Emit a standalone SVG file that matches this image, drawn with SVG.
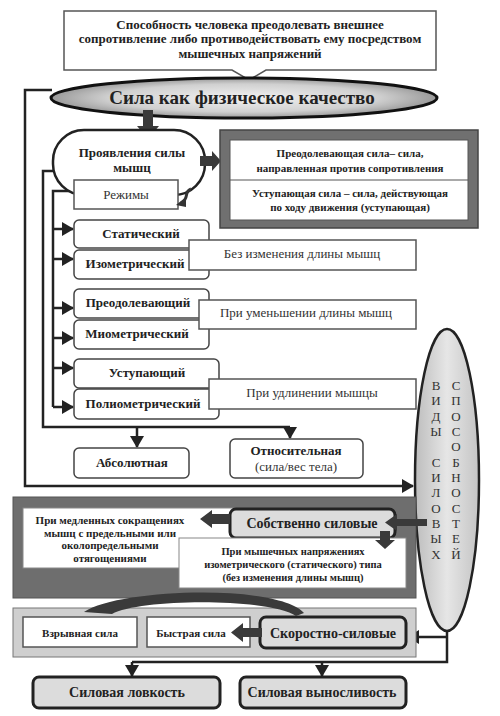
<svg xmlns="http://www.w3.org/2000/svg" width="500" height="716" viewBox="0 0 500 716">
<style>
text{font-family:'Liberation Serif','Times New Roman','DejaVu Serif',serif}
.t{fill:#222;text-anchor:middle}
.b{font-weight:bold}
.n{font-weight:normal;fill:#333}
.box{fill:#fff;stroke:#555;stroke-width:1.5}
.rb{fill:#fff;stroke:#444;stroke-width:1.5}
.gb{fill:#dcdcdc;stroke:#222;stroke-width:3}
.ln{fill:none;stroke:#222;stroke-width:2.5}
.thick{fill:#3a3a3a;stroke:none}
</style>
<defs>
<marker id="ah" markerUnits="userSpaceOnUse" markerWidth="12" markerHeight="14" refX="11" refY="7" orient="auto">
<path d="M0,0 L12,7 L0,14 z" fill="#222"/>
</marker>
<radialGradient id="eg" cx="0.5" cy="0.5" r="0.5">
<stop offset="0" stop-color="#f2f2f2"/>
<stop offset="0.7" stop-color="#d0d0d0"/>
<stop offset="1" stop-color="#9a9a9a"/>
</radialGradient>
<linearGradient id="vg" x1="0" y1="0" x2="1" y2="0">
<stop offset="0" stop-color="#bdbdbd"/>
<stop offset="0.5" stop-color="#e6e6e6"/>
<stop offset="1" stop-color="#c4c4c4"/>
</linearGradient>
</defs>

<g id="connectors">
<path class="ln" d="M52,90 H25 V486 H413" marker-end="url(#ah)"/>
<path class="ln" d="M56,171 H43 V427 H290"/>
<path class="ln" d="M137,427 V447" marker-end="url(#ah)"/>
<path class="ln" d="M290,427 V438" marker-end="url(#ah)"/>
<path class="ln" d="M74,191 H53 V407"/>
<path class="ln" d="M53,229 H73" marker-end="url(#ah)"/>
<path class="ln" d="M53,259 H73" marker-end="url(#ah)"/>
<path class="ln" d="M53,308 H73" marker-end="url(#ah)"/>
<path class="ln" d="M53,338 H73" marker-end="url(#ah)"/>
<path class="ln" d="M53,368 H73" marker-end="url(#ah)"/>
<path class="ln" d="M53,407 H73" marker-end="url(#ah)"/>
<path class="ln" d="M447,630 V662 H132"/>
<path class="ln" d="M447,637 H408" marker-end="url(#ah)"/>
<path class="ln" d="M132,662 V676" marker-end="url(#ah)"/>
<path class="ln" d="M322,662 V676" marker-end="url(#ah)"/>
</g>

<g id="definition">
<path d="M64,11 H436 V70 H266 L249,80 L232,70 H64 Z" fill="#fff" stroke="#555" stroke-width="1.5"/>
<text class="t b" x="250" y="29" font-size="13">Способность человека преодолевать внешнее</text>
<text class="t b" x="250" y="43" font-size="13">сопротивление либо противодействовать ему посредством</text>
<text class="t b" x="250" y="58" font-size="13">мышечных напряжений</text>
</g>

<g id="title">
<ellipse cx="244" cy="98" rx="193" ry="20" fill="url(#eg)" stroke="#111" stroke-width="3"/>
<text class="t b" x="242" y="104" font-size="19">Сила как физическое качество</text>
</g>

<g id="arrow-down-1">
<path class="thick" d="M143,110 H153 V126 H159 L148,139 L137,126 H143 Z"/>
</g>

<g id="manifest">
<rect x="53" y="130" width="152" height="65" rx="31" fill="#fff" stroke="#222" stroke-width="2.5"/>
<text class="t b" x="132" y="157" font-size="13">Проявления силы</text>
<text class="t b" x="132" y="172" font-size="13">мышц</text>
<path class="thick" d="M200,156 H212 V151 L221,161 L212,171 V166 H200 Z"/>
</g>

<g id="modes">
<rect class="box" x="74" y="180" width="104" height="29"/>
<text class="t n" x="126" y="199" font-size="13">Режимы</text>
<path d="M191,189 C183,192 190,199 181,203" fill="none" stroke="#333" stroke-width="3"/>
<path d="M186,197 L176,205 L186,207 Z" fill="#333"/>
</g>

<g id="force-types">
<rect x="220" y="130" width="258" height="98" fill="#707070" stroke="#444" stroke-width="1.5"/>
<rect x="230" y="140" width="238" height="80" fill="#fff" stroke="#555" stroke-width="1"/>
<line x1="230" y1="180" x2="468" y2="180" stroke="#555" stroke-width="1"/>
<text class="t b" x="350" y="157" font-size="11">Преодолевающая сила–  сила,</text>
<text class="t b" x="350" y="172" font-size="11">направленная против сопротивления</text>
<text class="t b" x="350" y="197" font-size="11">Уступающая сила – сила, действующая</text>
<text class="t b" x="350" y="211" font-size="11">по ходу движения (уступающая)</text>
</g>

<g id="static">
<rect class="rb" x="74" y="220" width="135" height="28" rx="5"/>
<text class="t b" x="141" y="238" font-size="13">Статический</text>
</g>
<g id="isometric">
<rect class="rb" x="74" y="250" width="135" height="29" rx="5"/>
<text class="t b" x="135" y="268" font-size="13">Изометрический</text>
</g>
<g id="no-change">
<rect class="box" x="189" y="240" width="227" height="30"/>
<text class="t n" x="302" y="258" font-size="13">Без изменения длины мышц</text>
</g>

<g id="overcoming">
<rect class="rb" x="74" y="289" width="135" height="29" rx="5"/>
<text class="t b" x="138" y="307" font-size="13">Преодолевающий</text>
</g>
<g id="miometric">
<rect class="rb" x="74" y="320" width="135" height="29" rx="5"/>
<text class="t b" x="137" y="338" font-size="13">Миометрический</text>
</g>
<g id="shorten">
<rect class="box" x="199" y="300" width="217" height="29"/>
<text class="t n" x="306" y="317" font-size="13">При уменьшении длины мышц</text>
</g>

<g id="yielding">
<rect class="rb" x="74" y="359" width="145" height="29" rx="5"/>
<text class="t b" x="147" y="377" font-size="13">Уступающий</text>
</g>
<g id="poliometric">
<rect class="rb" x="74" y="389" width="145" height="30" rx="5"/>
<text class="t b" x="143" y="408" font-size="13">Полиометрический</text>
</g>
<g id="lengthen">
<rect class="box" x="209" y="379" width="207" height="30"/>
<text class="t n" x="312" y="397" font-size="13">При удлинении мышцы</text>
</g>

<g id="absolute">
<rect class="rb" x="74" y="448" width="115" height="30" rx="5"/>
<text class="t b" x="132" y="467" font-size="13">Абсолютная</text>
</g>
<g id="relative">
<rect class="rb" x="230" y="439" width="133" height="39" rx="5"/>
<text class="t b" x="296" y="455" font-size="13">Относительная</text>
<text class="t n" x="296" y="471" font-size="13">(сила/вес тела)</text>
</g>

<g id="types-ellipse">
<ellipse cx="447" cy="480" rx="32" ry="151" fill="url(#vg)" stroke="#222" stroke-width="2.5"/>
<g class="t n" font-size="13">
<text x="436" y="390">В</text><text x="436" y="405">И</text><text x="436" y="421">Д</text><text x="436" y="436">Ы</text>
<text x="436" y="467">С</text><text x="436" y="482">И</text><text x="436" y="497">Л</text><text x="436" y="513">О</text><text x="436" y="528">В</text><text x="436" y="543">Ы</text><text x="436" y="559">Х</text>
<text x="456" y="390">С</text><text x="456" y="405">П</text><text x="456" y="421">О</text><text x="456" y="436">С</text><text x="456" y="451">О</text><text x="456" y="467">Б</text><text x="456" y="482">Н</text><text x="456" y="497">О</text><text x="456" y="513">С</text><text x="456" y="528">Т</text><text x="456" y="543">Е</text><text x="456" y="559">Й</text>
</g>
</g>

<g id="strength-band">
<rect x="13" y="497" width="403" height="101" fill="#6e6e6e" stroke="#555" stroke-width="1"/>
<rect x="23" y="508" width="210" height="60" fill="#fff" stroke="#888" stroke-width="1"/>
<text class="t b" x="110" y="524" font-size="11">При медленных сокращениях</text>
<text class="t b" x="110" y="537" font-size="11">мышц с предельными или</text>
<text class="t b" x="110" y="549" font-size="11">околопредельными</text>
<text class="t b" x="110" y="562" font-size="11">отягощениями</text>
</g>

<g id="own-strength">
<rect class="gb" x="230" y="509" width="165" height="29" rx="6"/>
<text class="t b" x="312" y="528" font-size="14">Собственно силовые</text>
<path class="thick" d="M230,514 H212 V510 L200,519 L212,528 V524 H230 Z"/>
<path class="thick" d="M427,519 H397 V514 L385,522.5 L397,531 V526 H427 Z"/>
</g>

<g id="isometric-tension">
<rect x="179" y="538" width="227" height="50" fill="#fff" stroke="#888" stroke-width="1"/>
<text class="t b" x="293" y="555" font-size="10.5">При мышечных напряжениях</text>
<text class="t b" x="293" y="568" font-size="10.5">изометрического (статического) типа</text>
<text class="t b" x="293" y="581" font-size="10.5">(без изменения длины мышц)</text>
<path class="thick" d="M380,531 H390 V540 H395 L385,549 L375,540 H380 Z"/>
</g>

<g id="speed-band">
<rect x="13" y="608" width="403" height="49" fill="#cfcfcf" stroke="#777" stroke-width="1"/>
</g>
<g id="explosive">
<rect class="box" x="23" y="617" width="114" height="30"/>
<text class="t b" x="80" y="637" font-size="11">Взрывная сила</text>
</g>
<g id="fast">
<rect class="box" x="147" y="617" width="103" height="30"/>
<text class="t b" x="191" y="637" font-size="11">Быстрая сила</text>
</g>
<g id="speed-strength">
<rect class="gb" x="260" y="617" width="146" height="31" rx="6"/>
<text class="t b" x="333" y="638" font-size="14">Скоростно-силовые</text>
<path class="thick" d="M262,628 H243 V623 L231,632.5 L243,642 V637 H262 Z"/>
<path class="thick" d="M84,612 C120,588 280,584 304,613 L296,616 C272,598 140,598 112,614 Z"/>
</g>

<g id="agility">
<rect class="gb" x="33" y="677" width="187" height="31" rx="6"/>
<text class="t b" x="127" y="697" font-size="14">Силовая ловкость</text>
</g>
<g id="endurance">
<rect class="gb" x="240" y="677" width="166" height="31" rx="6"/>
<text class="t b" x="322" y="697" font-size="14">Силовая выносливость</text>
</g>
</svg>
